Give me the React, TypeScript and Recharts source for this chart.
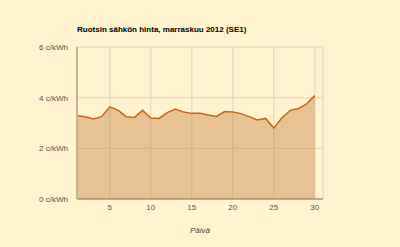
import { AreaChart, Area, XAxis, YAxis, CartesianGrid } from "recharts";

const days = [
    1, 2, 3, 4, 5, 6, 7, 8, 9, 10, 11, 12, 13, 14, 15,
    16, 17, 18, 19, 20, 21, 22, 23, 24, 25, 26, 27, 28, 29, 30,
];
const prices = [
    3.29, 3.25, 3.16, 3.25, 3.64, 3.51, 3.25, 3.22, 3.5, 3.2, 3.18, 3.41, 3.55, 3.43, 3.38,
    3.38, 3.32, 3.26, 3.45, 3.43, 3.37, 3.25, 3.12, 3.18, 2.8, 3.21, 3.5, 3.57, 3.75, 4.08,
];
const yTicks = [0, 2, 4, 6];
const xTicks = [5, 10, 15, 20, 25, 30];

const data = days.map((d, i) => ({ day: d, price: prices[i] }));

const font = "'Liberation Sans', Arial, sans-serif";

const App = () => {
    return (
        <div
            style={{
                position: "absolute",
                left: 0,
                top: 0,
                width: 400,
                height: 247,
                background: "#fff3d0",
                fontFamily: font,
            }}
        >
            <div
                style={{
                    position: "absolute",
                    left: 77,
                    top: 25,
                    fontSize: 8,
                    fontWeight: "bold",
                    color: "#000",
                    whiteSpace: "nowrap",
                }}
            >
                Ruotsin sähkön hinta, marraskuu 2012 (SE1)
            </div>
            <AreaChart
                width={400}
                height={247}
                data={data}
                margin={{ top: 47, right: 77, bottom: 0, left: 0 }}
            >
                <CartesianGrid stroke="#dcd4c4" strokeWidth={1} />
                <XAxis
                    dataKey="day"
                    type="number"
                    domain={[1, 31]}
                    ticks={xTicks}
                    height={48}
                    tickLine={false}
                    tickSize={3}
                    tickMargin={2}
                    axisLine={{ stroke: "#8a7b5c", strokeWidth: 1 }}
                    tick={{ fontSize: 8, fill: "#555", fontFamily: font }}
                    label={{
                        value: "Päivä",
                        position: "insideBottom",
                        offset: 14,
                        fontSize: 8,
                        fontStyle: "italic",
                        fill: "#444",
                        fontFamily: font,
                    }}
                />
                <YAxis
                    domain={[0, 6]}
                    ticks={yTicks}
                    width={77}
                    tickLine={false}
                    tickSize={6}
                    tickMargin={3}
                    axisLine={{ stroke: "#c4b391", strokeWidth: 2 }}
                    tick={{ fontSize: 8, fill: "#555", fontFamily: font }}
                    tickFormatter={(v) => `${v} c/kWh`}
                />
                <Area
                    type="linear"
                    dataKey="price"
                    stroke="#c8661a"
                    strokeWidth={1.5}
                    fill="#bd6f28"
                    fillOpacity={0.36}
                    dot={false}
                    isAnimationActive={false}
                />
            </AreaChart>
        </div>
    );
};

export default App;
